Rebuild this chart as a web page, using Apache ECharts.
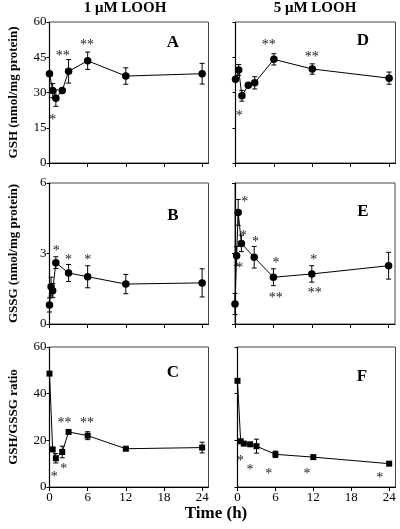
<!DOCTYPE html>
<html>
<head>
<meta charset="utf-8">
<script src="https://cdn.jsdelivr.net/npm/echarts@6/dist/echarts.min.js"></script>
<style>html,body{margin:0;padding:0;background:#fff;}#c{width:400px;height:529px;}</style>
</head>
<body>
<div id="c"></div>
<script>
// ---- data ----
var timeA = [0, 0.5, 1, 2, 3, 6, 12, 24];
var gshA = [38, 30.8, 27.6, 30.8, 39, 43.5, 37, 38];
var gshAErr = [0, 3, 3.5, 0, 5, 3.7, 3.5, 4.4];
var gshD = [35.6, 39.6, 28.6, 33.1, 34.1, 44.1, 40, 36.1];
var gshDErr = [0, 2.3, 2.3, 0, 2.6, 2.4, 2.2, 2.6];

var timeB = [0, 0.25, 0.5, 1, 3, 6, 12, 24];
var gssgB = [0.81, 1.59, 1.42, 2.61, 2.17, 2.01, 1.7, 1.75];
var gssgBErr = [0.3, 0.4, 0.3, 0.25, 0.36, 0.47, 0.41, 0.6];
var gssgE = [0.85, 2.9, 4.75, 3.43, 2.84, 1.99, 2.13, 2.48];
var gssgEErr = [0.45, 0.4, 0.55, 0.35, 0.46, 0.36, 0.35, 0.57];

var timeC = [0, 0.5, 1, 2, 3, 6, 12, 24];
var ratioC = [48.6, 16.1, 12.3, 15, 23.6, 22, 16.4, 16.9];
var ratioCErr = [0, 0, 2, 2.5, 0.8, 1.7, 0.5, 2.3];
var ratioF = [45.5, 19.6, 18.6, 18.3, 17.5, 14, 12.8, 10];
var ratioFErr = [0, 0, 0, 0, 3, 1.4, 0.5, 0.5];

var starsA = [[0.5, 19.4, '*'], [2.1, 46.5, '**'], [5.9, 51.5, '**']];
var starsD = [[0.6, 21, '*'], [5.2, 51.4, '**'], [11.9, 46.4, '**']];
var starsB = [[1.08, 3.2, '*'], [3, 2.85, '*'], [6, 2.85, '*']];
var starsE = [[1.53, 5.32, '*'], [1.27, 3.86, '*'], [0.74, 2.51, '*'], [3.2, 3.62, '*'],
              [6.4, 2.72, '*'], [6.35, 1.2, '**'], [12.3, 2.84, '*'], [12.45, 1.42, '**']];
var starsC = [[2.37, 28.7, '**'], [5.9, 28.7, '**'], [0.74, 5.4, '*'], [2.26, 8.7, '*']];
var starsF = [[0.48, 12.3, '*'], [1.97, 8.4, '*'], [4.96, 6.9, '*'], [11.0, 6.9, '*'], [22.5, 5.1, '*']];

var timeTicks = [0, 6, 12, 18, 24];
var colTitles = ['1 \u03bcM LOOH', '5 \u03bcM LOOH'];
var yNames = ['GSH (nmol/mg protein)', 'GSSG (nmol/mg protein)', 'GSH/GSSG ratio'];
var panelLetters = ['A', 'B', 'C', 'D', 'E', 'F'];
var xName = 'Time (h)';

// ---- chart ----
var SERIF = "'Liberation Serif','DejaVu Serif',serif";
var chart = echarts.init(document.getElementById('c'), null, {renderer: 'canvas'});

var panels = [
  {grid: {left: 49.5, top: 22, width: 159, height: 141}, t: timeA, v: gshA, e: gshAErr, s: starsA, ymax: 60, yint: 15, sym: 'circle', size: 7.5, ylab: true, xlab: false, yname: yNames[0]},
  {grid: {left: 49.5, top: 183, width: 159, height: 141}, t: timeB, v: gssgB, e: gssgBErr, s: starsB, ymax: 6, yint: 3, sym: 'circle', size: 7.5, ylab: true, xlab: false, yname: yNames[1]},
  {grid: {left: 49.5, top: 347, width: 159, height: 140}, t: timeC, v: ratioC, e: ratioCErr, s: starsC, ymax: 60, yint: 20, sym: 'rect', size: 6, ylab: true, xlab: true, yname: yNames[2]},
  {grid: {left: 235.5, top: 22, width: 160, height: 141}, t: timeA, v: gshD, e: gshDErr, s: starsD, ymax: 60, yint: 15, sym: 'circle', size: 7.5, ylab: false, xlab: false, yname: ''},
  {grid: {left: 235, top: 183, width: 160, height: 141}, t: timeB, v: gssgE, e: gssgEErr, s: starsE, ymax: 6, yint: 3, sym: 'circle', size: 7.5, ylab: false, xlab: false, yname: ''},
  {grid: {left: 237.5, top: 347, width: 158, height: 140}, t: timeC, v: ratioF, e: ratioFErr, s: starsF, ymax: 60, yint: 20, sym: 'rect', size: 6, ylab: false, xlab: true, yname: ''}
];

var grids = [], xAxes = [], yAxes = [], series = [];
panels.forEach(function (p, i) {
  grids.push(Object.assign({show: true, borderColor: '#444', borderWidth: 1, backgroundColor: 'transparent'}, p.grid));
  xAxes.push({
    type: 'value', gridIndex: i, min: 0, max: 25,
    axisLine: {show: true, onZero: false, lineStyle: {color: '#000', width: 1}},
    axisTick: {show: true, length: 4, customValues: timeTicks, lineStyle: {color: '#000'}},
    axisLabel: {show: p.xlab, customValues: timeTicks, margin: 4, color: '#000', fontFamily: SERIF, fontSize: 13},
    splitLine: {show: false}
  });
  yAxes.push({
    type: 'value', gridIndex: i, min: 0, max: p.ymax, interval: p.yint,
    name: p.yname, nameLocation: 'middle', nameGap: 29, nameRotate: 90,
    nameTextStyle: {fontFamily: SERIF, fontWeight: 'bold', fontSize: 13, color: '#000'},
    axisLine: {show: true, onZero: false, lineStyle: {color: '#000', width: 1.2}},
    axisTick: {show: true, length: 3, lineStyle: {color: '#000'}},
    axisLabel: {show: p.ylab, margin: 3, color: '#000', fontFamily: SERIF, fontSize: 13},
    splitLine: {show: false}
  });
  var pts = p.t.map(function (x, k) { return [x, p.v[k]]; });
  var errs = [];
  p.t.forEach(function (x, k) { if (p.e[k] > 0) errs.push([x, p.v[k] - p.e[k], p.v[k] + p.e[k]]); });
  series.push({
    type: 'custom', xAxisIndex: i, yAxisIndex: i, data: errs, z: 2, silent: true,
    renderItem: function (params, api) {
      var x = api.value(0);
      var lo = api.coord([x, api.value(1)]);
      var hi = api.coord([x, api.value(2)]);
      var w = 2.5;
      var st = {stroke: '#000', lineWidth: 1};
      return {type: 'group', children: [
        {type: 'line', shape: {x1: hi[0], y1: hi[1], x2: lo[0], y2: lo[1]}, style: st},
        {type: 'line', shape: {x1: hi[0] - w, y1: hi[1], x2: hi[0] + w, y2: hi[1]}, style: st},
        {type: 'line', shape: {x1: lo[0] - w, y1: lo[1], x2: lo[0] + w, y2: lo[1]}, style: st}
      ]};
    }
  });
  series.push({
    type: 'line', xAxisIndex: i, yAxisIndex: i, data: pts, z: 3,
    symbol: p.sym, symbolSize: p.size, showAllSymbol: true,
    lineStyle: {color: '#000', width: 1}, itemStyle: {color: '#000'}, animation: false
  });
  series.push({
    type: 'custom', xAxisIndex: i, yAxisIndex: i, data: p.s, z: 4, silent: true,
    renderItem: function (params, api) {
      var c = api.coord([api.value(0), api.value(1)]);
      return {type: 'text', x: c[0], y: c[1] + 3, style: {
        text: p.s[params.dataIndex][2], font: '14px ' + SERIF, fill: '#222',
        align: 'center', verticalAlign: 'middle'}};
    }
  });
});

var letterPos = [[173, 43], [173, 216], [173, 373], [363, 41], [363, 212], [362, 377]];
var graphics = [];
panelLetters.forEach(function (L, i) {
  graphics.push({type: 'text', x: letterPos[i][0], y: letterPos[i][1], style: {
    text: L, font: 'bold 17px ' + SERIF, fill: '#000', align: 'center', verticalAlign: 'middle'}});
});
graphics.push({type: 'text', x: 125, y: 8, style: {text: colTitles[0], font: 'bold 15px ' + SERIF, fill: '#000', align: 'center', verticalAlign: 'middle'}});
graphics.push({type: 'text', x: 315, y: 8, style: {text: colTitles[1], font: 'bold 15px ' + SERIF, fill: '#000', align: 'center', verticalAlign: 'middle'}});
graphics.push({type: 'text', x: 216, y: 514, style: {text: xName, font: 'bold 17px ' + SERIF, fill: '#000', align: 'center', verticalAlign: 'middle'}});

chart.setOption({
  animation: false,
  grid: grids, xAxis: xAxes, yAxis: yAxes, series: series, graphic: graphics
});
</script>
</body>
</html>
